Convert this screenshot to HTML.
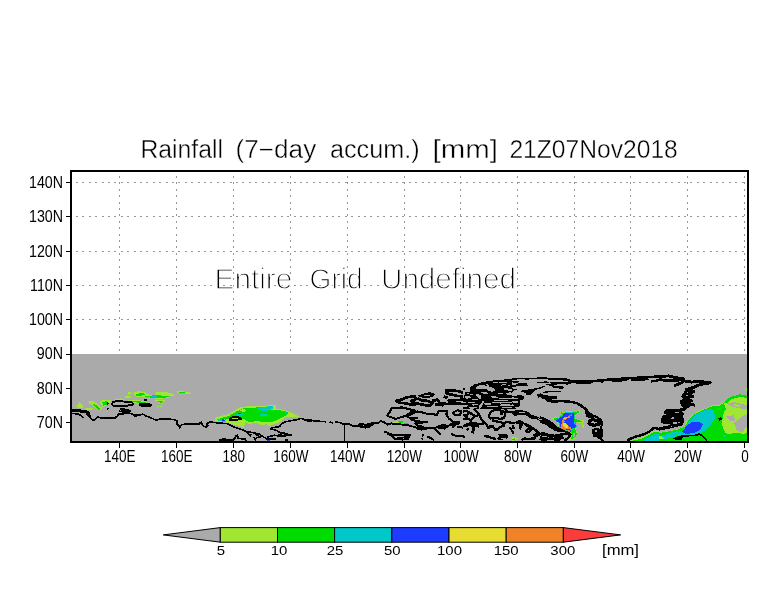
<!DOCTYPE html>
<html><head><meta charset="utf-8"><title>Rainfall (7-day accum.)</title>
<style>
html,body{margin:0;padding:0;background:#fff;}
svg{display:block}
text{font-family:"Liberation Sans",sans-serif;fill:#000}
.thin{stroke:#fff;stroke-width:0.4px;paint-order:fill stroke}
.lab{stroke:none}
</style></head><body>
<svg width="784" height="612" viewBox="0 0 784 612">
<rect width="784" height="612" fill="#fff"/>

<g stroke="#969696" stroke-width="1" fill="none" shape-rendering="crispEdges">
<line x1="119.5" y1="173" x2="119.5" y2="354" stroke-dasharray="2 4.4" stroke-dashoffset="-3"/>
<line x1="176.5" y1="173" x2="176.5" y2="354" stroke-dasharray="2 4.4" stroke-dashoffset="-3"/>
<line x1="233.5" y1="173" x2="233.5" y2="354" stroke-dasharray="2 4.4" stroke-dashoffset="-3"/>
<line x1="290.5" y1="173" x2="290.5" y2="354" stroke-dasharray="2 4.4" stroke-dashoffset="-3"/>
<line x1="347.3" y1="173" x2="347.3" y2="354" stroke-dasharray="2 4.4" stroke-dashoffset="-3"/>
<line x1="404.0" y1="173" x2="404.0" y2="354" stroke-dasharray="2 4.4" stroke-dashoffset="-3"/>
<line x1="460.8" y1="173" x2="460.8" y2="354" stroke-dasharray="2 4.4" stroke-dashoffset="-3"/>
<line x1="517.5" y1="173" x2="517.5" y2="354" stroke-dasharray="2 4.4" stroke-dashoffset="-3"/>
<line x1="574.0" y1="173" x2="574.0" y2="354" stroke-dasharray="2 4.4" stroke-dashoffset="-3"/>
<line x1="630.8" y1="173" x2="630.8" y2="354" stroke-dasharray="2 4.4" stroke-dashoffset="-3"/>
<line x1="687.6" y1="173" x2="687.6" y2="354" stroke-dasharray="2 4.4" stroke-dashoffset="-3"/>
<line x1="744.7" y1="173" x2="744.7" y2="354" stroke-dasharray="2 4.4" stroke-dashoffset="-3"/>
<line x1="72" y1="182.6" x2="747" y2="182.6" stroke-dasharray="2 4.4" stroke-dashoffset="-4"/>
<line x1="72" y1="216.9" x2="747" y2="216.9" stroke-dasharray="2 4.4" stroke-dashoffset="-4"/>
<line x1="72" y1="251.2" x2="747" y2="251.2" stroke-dasharray="2 4.4" stroke-dashoffset="-4"/>
<line x1="72" y1="285.5" x2="747" y2="285.5" stroke-dasharray="2 4.4" stroke-dashoffset="-4"/>
<line x1="72" y1="319.8" x2="747" y2="319.8" stroke-dasharray="2 4.4" stroke-dashoffset="-4"/>
</g>
<rect x="71" y="354" width="677" height="88" fill="#aaaaaa"/>
<defs><clipPath id="mapclip"><rect x="72" y="354" width="675" height="87"/></clipPath></defs>
<g shape-rendering="crispEdges" clip-path="url(#mapclip)">
<polygon points="83.5,411.2 88.5,411.5 90.0,414.0 90.8,418.4 88.5,417.1 86.0,414.0" fill="#000"/>
<polygon points="132.2,414.0 139.1,414.2 142.9,414.2 139.1,415.9 134.8,417.1" fill="#000"/>
<polygon points="144.1,414.6 148.5,417.1 153.5,419.0 156.0,420.5 151.0,418.8 146.0,416.8" fill="#000"/>
<polygon points="76.0,406.5 79.8,402.1 82.9,405.2 83.5,408.4 78.5,407.8" fill="#a0e632"/>
<polygon points="87.9,400.9 93.5,400.9 97.9,404.6 102.2,407.8 99.8,410.9 96.0,409.0 93.5,405.9 89.8,404.0" fill="#a0e632"/>
<polygon points="92.2,404.0 96.0,404.6 100.4,408.4 99.1,410.5 96.0,407.8" fill="#00dc00"/>
<polygon points="99.8,400.9 107.2,399.6 112.2,400.9 107.2,405.2 102.9,407.1 100.4,404.0" fill="#a0e632"/>
<polygon points="102.2,402.1 107.2,400.9 106.6,404.6 103.5,405.9" fill="#00dc00"/>
<polygon points="85.4,408.4 92.9,407.5 92.2,409.6 86.0,410.2" fill="#a0e632"/>
<polygon points="114.8,399.6 121.0,398.4 126.0,400.2 118.5,400.9" fill="#a0e632"/>
<polygon points="124.8,396.5 131.0,395.9 129.8,397.8 125.4,397.8" fill="#a0e632"/>
<polygon points="127.2,392.8 131.0,391.5 132.2,394.0 128.5,394.6" fill="#a0e632"/>
<polygon points="133.5,392.8 138.5,390.9 146.0,392.8 153.5,392.8 163.5,391.5 169.0,392.8 169.0,397.8 158.5,399.0 146.0,397.1 136.0,397.1" fill="#a0e632"/>
<polygon points="146.0,392.8 153.5,392.8 158.5,394.0 151.0,395.0 147.2,394.2" fill="#aaaaaa"/>
<polygon points="136.0,394.0 142.2,392.8 146.0,394.0 141.0,395.9 136.6,396.5" fill="#00dc00"/>
<polygon points="144.8,395.9 157.2,395.2 169.0,396.2 169.0,397.2 158.5,398.4 146.0,397.1" fill="#00dc00"/>
<polygon points="152.2,396.1 157.2,396.2 157.2,397.0 152.2,396.9" fill="#00c8c8"/>
<polygon points="127.9,399.6 138.5,400.2 146.6,401.8 149.1,404.4 138.5,403.5 129.1,402.2" fill="#a0e632"/>
<polygon points="129.8,400.5 138.5,401.1 146.0,402.5 147.2,403.8 138.5,402.8 130.4,401.5" fill="#00dc00"/>
<polygon points="154.8,400.2 164.8,400.5 161.6,404.0" fill="#a0e632"/>
<polygon points="156.6,400.9 163.5,401.0 161.0,403.0" fill="#00dc00"/>
<polygon points="156.6,405.5 158.5,405.5 158.5,406.5 156.6,406.5" fill="#a0e632"/>
<polygon points="160.4,405.9 162.0,405.9 162.0,406.9 160.4,406.9" fill="#a0e632"/>
<polygon points="169.0,392.8 172.1,393.4 174.6,395.2 170.2,396.5 169.0,396.2" fill="#a0e632"/>
<polygon points="177.1,391.5 180.2,390.9 191.5,392.8 190.9,394.0 184.0,393.4 177.8,393.4" fill="#a0e632"/>
<polygon points="178.4,391.5 184.0,392.2 187.8,393.4 184.0,393.0 179.0,392.5" fill="#00dc00"/>
<polygon points="214.6,417.8 219.0,416.5 229.0,414.0 235.2,410.2 240.2,407.1 249.0,406.2 267.0,405.9 267.0,424.0 261.5,425.5 256.5,422.5 249.0,423.8 245.2,422.1 244.0,427.8 239.0,425.9 231.5,424.0 227.8,423.4 224.0,422.1 217.8,421.8 214.6,420.2" fill="#a0e632"/>
<polygon points="219.0,418.4 229.0,415.9 236.5,411.5 242.8,408.4 251.5,407.8 267.0,406.8 267.0,422.1 256.5,421.2 249.0,422.1 244.0,419.2 239.0,417.1 234.0,416.5 229.0,419.0 225.2,419.6" fill="#00dc00"/>
<polygon points="239.0,410.2 244.0,409.0 246.5,410.9 242.8,412.1" fill="#a0e632"/>
<polygon points="255.2,407.8 267.0,406.8 267.0,411.5 261.5,410.5" fill="#00c8c8"/>
<polygon points="235.2,414.0 241.5,412.8 242.8,414.6 237.1,415.9" fill="#00c8c8"/>
<polygon points="259.0,414.6 267.0,413.8 267.0,415.9 261.5,416.5" fill="#00c8c8"/>
<polygon points="216.5,419.6 222.8,419.0 226.5,422.1 219.0,421.2" fill="#00c8c8"/>
<polygon points="221.5,419.2 224.6,419.6 225.9,421.5 222.8,420.9" fill="#1e3cff"/>
<polygon points="238.4,413.0 240.5,413.0 240.5,414.0 238.4,414.0" fill="#1e3cff"/>
<polygon points="219.0,440.9 224.0,438.8 227.8,440.9" fill="#000"/>
<polygon points="267.0,405.2 275.8,405.2 275.8,408.4 284.5,410.2 292.0,412.8 298.9,416.5 295.8,417.1 289.5,416.5 284.5,417.8 280.8,422.1 274.5,424.0 269.5,425.9 267.0,425.2" fill="#a0e632"/>
<polygon points="267.0,410.2 274.5,409.6 283.2,410.9 288.9,412.8 285.8,415.9 280.8,417.8 275.8,420.9 270.8,422.1 267.0,422.1" fill="#00dc00"/>
<polygon points="267.0,406.2 273.2,406.5 272.6,409.0 267.0,410.9" fill="#00c8c8"/>
<polygon points="283.2,410.9 288.2,412.1 285.8,413.0" fill="#00c8c8"/>
<polygon points="267.0,438.4 269.5,438.8 270.1,440.5 267.0,440.9" fill="#1e3cff"/>
<polygon points="267.0,437.8 268.9,437.8 268.9,438.5 267.0,438.5" fill="#00dc00"/>
<polygon points="393.1,422.1 397.5,421.2 402.5,421.2 403.1,423.4 398.8,423.0 393.8,423.0" fill="#a0e632"/>
<polygon points="397.5,421.2 402.5,421.2 402.8,423.0 398.8,422.5" fill="#00dc00"/>
<polygon points="403.8,423.4 408.1,423.4 410.0,425.2 405.0,424.6" fill="#00dc00"/>
<polygon points="404.4,423.5 407.5,423.6 407.5,424.4 404.8,424.2" fill="#00c8c8"/>
<polygon points="417.5,395.9 423.8,393.4 430.0,392.1 435.0,393.8 433.1,397.1 426.2,398.0 420.0,397.2" fill="#000"/>
<polygon points="423.8,395.2 430.0,395.0 430.0,396.0 423.8,396.2" fill="#aaaaaa"/>
<polygon points="365.0,424.0 370.0,422.8 374.4,423.4 373.8,425.2 368.8,426.5 367.5,428.4 365.0,427.8" fill="#000"/>
<polygon points="416.9,425.9 421.2,424.6 423.8,426.5 430.0,427.8 423.8,429.6 417.5,429.6" fill="#000"/>
<polygon points="436.2,427.8 440.0,424.6 445.0,424.0 448.1,427.1 445.0,429.6 440.0,429.0" fill="#000"/>
<polygon points="450.0,423.4 455.0,422.1 460.0,420.9 460.6,424.0 455.0,425.9 451.2,425.9" fill="#000"/>
<polygon points="469.9,388.4 471.1,386.5 474.2,384.6 478.0,383.4 483.0,382.1 489.2,380.9 498.0,379.9 506.8,379.3 512.0,379.0 512.0,409.0 463.0,409.0 463.0,399.0 465.5,392.1 469.9,391.5" fill="#000"/>
<polygon points="463.0,388.1 464.9,388.2 464.9,389.6 463.0,389.6" fill="#000"/>
<polygon points="478.0,385.6 483.6,385.2 489.2,386.5 494.2,388.4 495.5,390.2 492.4,391.8 488.0,390.9 486.8,389.3 481.8,388.7 477.4,389.0 475.5,388.1" fill="#aaaaaa"/>
<polygon points="492.4,381.8 496.8,381.8 498.0,382.8 493.0,382.9" fill="#aaaaaa"/>
<polygon points="499.2,382.1 505.5,381.5 508.0,382.4 503.0,383.4 499.9,383.2" fill="#aaaaaa"/>
<polygon points="485.5,384.3 488.0,384.0 489.2,385.6 486.8,385.6" fill="#aaaaaa"/>
<polygon points="503.6,388.1 508.0,388.4 512.0,389.6 512.0,390.9 506.8,390.4 503.6,389.3" fill="#aaaaaa"/>
<polygon points="498.0,392.8 503.0,393.1 503.0,394.1 498.0,393.9" fill="#aaaaaa"/>
<polygon points="505.5,392.8 510.5,392.4 512.0,393.4 512.0,394.6 506.8,394.9" fill="#aaaaaa"/>
<polygon points="481.1,392.1 486.8,392.4 489.9,393.1 486.8,393.7 481.1,393.4" fill="#aaaaaa"/>
<polygon points="466.8,392.8 469.2,392.6 469.2,393.9 466.8,394.0" fill="#aaaaaa"/>
<polygon points="469.9,394.0 473.0,393.9 473.0,394.9 469.9,394.9" fill="#aaaaaa"/>
<polygon points="475.5,394.0 479.2,394.6 481.1,395.9 481.1,399.0 478.6,398.4 476.4,395.9" fill="#aaaaaa"/>
<polygon points="490.5,395.6 495.5,395.9 498.0,397.8 494.2,398.1 491.1,397.1" fill="#aaaaaa"/>
<polygon points="465.5,395.6 469.9,395.9 471.1,397.8 466.8,398.7 464.9,397.8" fill="#aaaaaa"/>
<polygon points="498.0,398.1 506.8,397.8 512.0,398.1 512.0,399.0 500.5,399.3" fill="#aaaaaa"/>
<polygon points="494.2,399.6 501.8,399.9 506.8,399.6 508.0,400.6 501.8,401.0 494.2,400.8" fill="#aaaaaa"/>
<polygon points="471.8,399.0 477.4,399.3 479.2,400.2 473.0,400.4" fill="#aaaaaa"/>
<polygon points="481.8,400.9 484.2,400.8 484.2,401.8 481.8,402.0" fill="#aaaaaa"/>
<polygon points="463.0,401.5 466.1,401.8 466.8,403.1 463.0,403.4" fill="#aaaaaa"/>
<polygon points="468.0,401.5 474.9,401.8 475.5,402.8 468.6,402.9" fill="#aaaaaa"/>
<polygon points="491.8,402.1 500.5,402.4 508.0,401.8 512.0,402.1 512.0,403.1 500.5,403.5 491.8,403.2" fill="#aaaaaa"/>
<polygon points="484.2,403.1 490.5,403.4 491.1,404.9 484.9,404.6" fill="#aaaaaa"/>
<polygon points="472.4,404.3 477.4,404.0 478.6,405.2 473.0,405.6" fill="#aaaaaa"/>
<polygon points="463.0,404.9 466.8,404.6 468.6,405.9 464.9,407.1 463.0,406.8" fill="#aaaaaa"/>
<polygon points="498.0,404.6 506.8,404.3 512.0,404.6 512.0,405.9 500.5,406.0" fill="#aaaaaa"/>
<polygon points="486.8,405.9 493.0,405.6 498.0,406.5 493.0,407.4 487.4,407.1" fill="#aaaaaa"/>
<polygon points="478.6,406.5 482.4,402.1 483.6,402.4 481.1,407.8 478.6,409.0" fill="#aaaaaa"/>
<polygon points="468.6,407.1 475.5,406.5 477.4,408.1 470.5,409.0" fill="#aaaaaa"/>
<polygon points="501.8,406.8 512.0,406.5 512.0,408.1 503.0,408.1" fill="#aaaaaa"/>
<polygon points="508.0,384.6 509.9,384.6 509.9,385.9 508.0,385.9" fill="#aaaaaa"/>
<polygon points="500.5,384.6 506.1,384.3 506.8,385.2 501.1,385.6" fill="#aaaaaa"/>
<polygon points="512.0,377.9 537.0,377.9 537.6,376.8 547.0,376.8 547.6,377.9 561.0,377.9 561.0,379.9 555.8,379.6 549.5,380.2 547.0,379.3 538.9,379.3 537.0,378.7 529.5,379.0 527.6,380.2 524.5,379.3 518.2,379.3 514.5,380.2 512.0,380.2" fill="#000"/>
<polygon points="514.5,379.9 521.4,379.8 521.4,380.5 514.5,380.8" fill="#aaaaaa"/>
<polygon points="512.0,380.6 518.2,381.0 520.1,382.1 515.8,382.8 512.0,382.4" fill="#000"/>
<polygon points="518.2,383.4 527.0,383.1 527.6,385.6 521.4,385.9 515.8,386.5 512.0,387.4 512.0,385.2 515.8,384.6" fill="#000"/>
<polygon points="521.4,390.6 526.4,389.9 532.6,388.7 538.2,387.8 543.2,386.2 545.1,386.5 540.8,388.7 535.8,389.9 533.2,392.8 530.8,394.9 526.4,394.6 526.4,392.8 521.4,392.1" fill="#000"/>
<polygon points="537.0,381.8 547.0,381.4 549.5,382.4 547.0,383.4 537.0,382.8" fill="#000"/>
<polygon points="549.5,382.4 555.8,381.8 561.0,382.1 561.0,384.0 555.8,384.6 552.6,385.9 549.5,385.6 545.8,384.9 547.0,384.0 552.0,384.0" fill="#000"/>
<polygon points="555.8,382.8 561.0,382.9 561.0,383.4 555.8,383.5" fill="#aaaaaa"/>
<polygon points="552.0,386.5 561.0,386.2 561.0,388.7 555.8,388.1 552.0,387.4" fill="#000"/>
<polygon points="537.0,394.0 540.8,393.4 544.5,395.2 549.5,395.6 557.0,395.9 557.0,398.7 552.6,399.0 552.0,401.5 547.0,401.5 545.8,399.6 542.0,399.0 540.8,397.1 538.2,397.8 537.0,395.2" fill="#000"/>
<polygon points="552.0,401.5 561.0,400.9 561.0,402.4 550.8,402.8" fill="#000"/>
<polygon points="512.0,388.4 515.8,388.7 518.2,389.3 514.5,390.2 512.0,392.1" fill="#000"/>
<polygon points="512.0,395.9 521.4,395.2 524.5,396.5 523.2,399.6 520.1,400.2 519.5,406.5 515.8,407.1 512.0,404.0 512.0,402.4 517.0,403.4 518.2,401.5 512.0,400.9 512.0,399.0 518.2,399.0 518.9,397.8 512.0,397.4" fill="#000"/>
<polygon points="543.2,391.6 561.0,390.6 561.0,391.6 543.2,392.8" fill="#000"/>
<polygon points="537.0,386.5 541.4,386.5 541.4,387.4 537.0,387.4" fill="#000"/>
<polygon points="512.0,406.5 514.5,405.2 515.8,409.0 512.0,409.0" fill="#000"/>
<polygon points="498.0,434.0 506.8,433.7 508.0,436.5 506.8,439.0 498.0,440.2 496.8,438.4 499.2,436.5" fill="#000"/>
<polygon points="500.5,438.4 505.5,437.9 505.5,439.0 500.5,439.3" fill="#aaaaaa"/>
<polygon points="512.0,437.4 515.8,437.1 517.9,438.4 515.1,440.2 512.0,440.9" fill="#a0e632"/>
<polygon points="512.0,438.7 514.8,438.4 515.1,439.9 512.0,440.6" fill="#00dc00"/>
<polygon points="512.0,410.9 517.0,410.2 524.5,410.6 528.2,412.1 530.8,414.6 537.0,416.5 539.5,417.8 544.5,419.0 548.2,420.9 552.0,423.4 555.8,425.9 558.2,428.4 561.0,429.6 561.0,430.9 555.8,429.6 552.0,427.8 548.2,427.1 547.0,424.0 542.0,421.5 537.0,419.6 530.8,418.4 527.0,415.9 523.2,414.6 518.2,415.2 514.5,415.9 512.0,414.0" fill="#000"/>
<polygon points="518.2,411.8 524.5,412.1 525.1,413.4 518.9,413.1" fill="#aaaaaa"/>
<polygon points="538.2,418.4 542.0,419.0 541.4,419.9 538.2,419.3" fill="#aaaaaa"/>
<polygon points="518.2,420.2 520.1,419.9 524.5,422.8 528.2,424.0 533.2,427.1 537.0,429.6 539.5,432.1 542.0,434.0 547.0,435.2 549.5,434.0 553.2,434.0 557.0,436.5 561.0,438.4 561.0,439.6 555.8,438.4 552.0,436.5 547.0,436.5 542.0,435.9 538.2,434.0 534.5,430.9 530.8,429.0 527.0,427.1 524.5,425.2 523.2,424.0 520.8,429.6 518.9,429.0 519.5,424.0 515.8,423.4 512.0,424.0 512.0,422.1 515.8,421.5" fill="#000"/>
<polygon points="629.1,440.9 636.0,439.0 642.2,437.1 648.5,434.2 653.5,431.2 659.0,430.5 659.0,440.9" fill="#a0e632"/>
<polygon points="631.0,440.9 636.0,440.0 642.2,438.4 648.5,435.2 653.5,432.1 659.0,431.5 659.0,440.9" fill="#00dc00"/>
<polygon points="642.2,440.9 648.5,437.1 653.5,434.6 659.0,434.0 659.0,440.9" fill="#00c8c8"/>
<polygon points="585.4,412.1 589.1,413.4 590.4,417.8 586.6,417.1" fill="#000"/>
<polygon points="591.6,429.0 598.5,427.8 602.2,431.5 597.2,434.0 598.5,437.8 593.5,436.5 591.6,431.5" fill="#000"/>
<polygon points="595.0,430.5 597.2,430.2 597.5,431.5 595.2,431.8" fill="#aaaaaa"/>
<polygon points="584.8,410.2 587.9,410.2 591.0,415.2 591.6,418.4 587.9,418.0 585.8,415.2" fill="#000"/>
<polygon points="597.2,432.8 602.9,430.9 602.9,436.5 601.0,439.6 597.2,438.4" fill="#000"/>
<polygon points="747.1,395.9 740.2,394.2 730.2,397.1 725.2,400.9 719.0,405.2 712.8,405.2 709.0,407.1 700.2,410.2 694.0,414.0 687.8,420.2 684.0,426.5 677.8,429.0 666.5,431.5 659.0,432.8 659.0,440.9 747.1,440.9" fill="#a0e632"/>
<polygon points="659.0,433.0 666.5,431.9 677.8,429.5 684.4,427.0 688.2,420.8 694.5,414.5 700.8,410.8 709.2,407.6 713.0,405.8 719.2,405.8 724.0,403.0 726.5,411.5 724.0,424.0 725.2,432.8 734.0,436.5 740.2,439.0 747.1,437.1 747.1,440.9 659.0,440.9" fill="#00dc00"/>
<polygon points="659.0,436.5 666.5,435.2 671.5,436.5 666.5,438.4 659.0,439.0" fill="#a0e632"/>
<polygon points="689.0,421.5 695.2,415.2 702.8,410.9 710.2,408.4 714.0,411.5 715.2,417.8 711.5,424.0 706.5,429.0 700.2,434.0 694.0,435.2 681.5,435.2 674.0,434.0 666.5,433.8 674.0,431.8 682.8,430.5" fill="#00c8c8"/>
<polygon points="661.5,435.5 671.5,433.0 679.0,435.5 671.5,437.8 664.0,439.0" fill="#00c8c8"/>
<polygon points="682.1,432.1 685.9,426.5 691.5,422.1 697.8,421.5 702.8,424.0 700.2,430.2 694.0,432.8 686.5,434.0" fill="#1e3cff"/>
<polygon points="724.0,411.5 729.0,405.2 739.0,402.8 747.1,404.0 747.1,436.5 740.2,439.0 734.0,436.5 725.2,432.8 721.5,424.0" fill="#a0e632"/>
<polygon points="724.0,403.0 725.2,400.9 730.2,397.1 740.2,394.2 747.1,395.9 747.1,398.0 740.2,396.8 731.5,399.2 727.5,403.0" fill="#00dc00"/>
<polygon points="726.5,403.5 734.0,402.0 741.5,404.0 747.1,405.2 747.1,409.6 740.2,408.4 732.8,406.8" fill="#aaaaaa"/>
<polygon points="734.0,404.0 741.5,405.2 739.0,406.8 734.0,405.9" fill="#a0e632"/>
<polygon points="726.5,416.5 734.0,415.2 735.2,421.5 729.0,420.2" fill="#aaaaaa"/>
<polygon points="734.0,422.8 744.0,415.2 747.1,414.0 747.1,426.5 741.5,432.8 736.5,430.2" fill="#aaaaaa"/>
<polygon points="729.0,434.0 736.5,432.8 744.0,434.0 747.1,432.8 747.1,440.9 709.0,440.9 714.0,436.5 721.5,434.6" fill="#00dc00"/>
<polygon points="723.4,435.0 725.9,435.0 725.9,437.1 723.4,437.1" fill="#00c8c8"/>
<polygon points="746.1,387.8 747.1,387.8 747.1,390.9 746.1,390.9" fill="#a0e632"/>
<polygon points="672.8,438.4 677.8,435.9 682.8,436.5 682.1,439.6 675.2,439.6" fill="#000"/>
<polygon points="552.2,418.7 554.4,417.3 558.7,417.6 561.6,414.4 559.4,411.5 563.7,412.6 567.3,411.1 571.6,411.5 575.9,411.5 579.5,410.1 579.5,412.9 575.9,414.4 575.2,418.0 577.4,419.4 583.9,420.5 583.1,423.7 584.6,428.0 582.4,427.3 581.7,423.0 575.9,422.3 576.7,425.9 575.2,428.8 576.7,430.9 577.4,435.2 574.5,438.8 568.8,439.9 571.6,435.9 571.6,433.1 567.3,431.6 563.7,430.2 560.8,429.1 558.0,428.0 558.7,423.7 555.1,420.8" fill="#a0e632"/>
<polygon points="553.3,418.8 554.7,418.0 558.8,418.1 562.0,414.7 560.5,412.2 563.7,413.1 567.3,411.6 571.6,412.0 575.9,412.0 578.8,410.8 579.0,412.7 575.6,414.1 574.8,418.0 577.0,419.8 581.7,420.8 581.3,422.3 575.8,421.9 576.3,425.7 574.9,428.8 576.3,431.1 576.8,435.1 574.2,438.2 570.2,439.2 572.2,435.9 572.1,432.8 567.3,431.3 563.7,429.8 561.0,428.8 558.4,427.7 559.1,423.7 555.5,420.7" fill="#00dc00"/>
<polygon points="572.7,433.8 574.5,432.7 575.6,435.2 573.8,437.4 572.7,435.9" fill="#aaaaaa"/>
<polygon points="554.7,420.0 558.5,418.3 562.3,415.2 563.1,412.8 568.8,411.9 574.1,412.7 574.9,416.5 574.2,420.1 574.9,423.7 577.1,425.9 574.8,428.3 572.1,428.9 572.1,432.7 567.9,431.5 563.6,429.0 559.1,427.6 559.1,423.1" fill="#00c8c8"/>
<polygon points="555.5,420.3 558.8,418.7 562.6,415.7 563.9,413.4 568.8,412.5 573.5,413.2 574.2,416.5 573.5,420.1 574.2,423.7 576.2,425.9 574.4,427.7 571.3,428.6 571.3,431.9 568.0,430.9 563.7,428.5 559.7,427.0 559.7,423.0" fill="#1e3cff"/>
<polygon points="568.8,414.7 572.4,414.4 572.4,416.2 569.5,416.2" fill="#00c8c8"/>
<polygon points="562.3,420.1 564.4,417.3 568.8,416.2 571.6,417.3 567.3,418.0 565.2,420.8 563.7,423.0 567.3,425.9 570.9,427.3 571.6,429.5 568.8,430.9 565.2,430.2 562.3,428.8 560.8,427.3 561.6,423.7" fill="#f08228"/>
<polygon points="563.0,423.0 565.2,422.3 567.3,425.2 568.8,427.3 565.2,428.0 563.0,425.9" fill="#e6dc32"/>
<polygon points="563.7,418.0 567.0,417.1 566.7,418.1 564.4,419.3" fill="#e6dc32"/>
<polygon points="565.2,428.8 570.2,429.1 570.2,430.2 565.9,429.8" fill="#1e3cff"/>
<polygon points="564.4,420.5 566.7,418.8 570.2,418.8 568.8,421.6 565.9,422.4" fill="#1e3cff"/>
<polygon points="544.3,419.1 548.6,420.5 553.3,423.7 555.5,427.3 552.9,428.4 549.3,426.6 547.2,423.0 542.9,420.8" fill="#000"/>
</g>
<!--COAST-->
<g fill="none" stroke="#000" stroke-linejoin="round" shape-rendering="crispEdges" clip-path="url(#mapclip)">
<polyline points="71.0,411.5 74.8,410.9 78.5,411.5 82.2,412.1 86.0,411.5 89.1,412.8 90.4,418.4 94.1,420.5 97.9,416.8 101.0,418.0 106.0,417.8 113.5,418.4 117.2,416.5 118.5,414.2 123.5,413.8 127.2,412.8 132.2,414.0 134.8,415.9 139.1,415.2 142.9,414.2 146.0,415.9 151.0,417.8 156.0,420.2 159.8,419.2 169.0,419.0" stroke-width="1.65"/>
<polyline points="71.0,410.2 76.0,409.8 83.5,410.5 88.5,411.5" stroke-width="1.55"/>
<polyline points="71.0,413.4 78.5,414.0 82.9,417.1 83.5,418.4" stroke-width="1.55"/>
<polyline points="111.6,404.0 113.5,401.8 118.5,400.9 126.0,401.8 132.2,402.5 133.5,404.0 131.0,405.2 124.8,405.9 118.5,406.2 113.5,405.9 111.6,404.0" stroke-width="1.95"/>
<polyline points="139.1,404.6 142.2,403.8 148.5,404.0 151.0,405.2 148.5,406.5 142.2,406.2 139.1,404.6" stroke-width="1.95"/>
<polyline points="107.0,403.0 108.5,404.0" stroke-width="2.35"/>
<polyline points="144.1,399.9 146.6,400.1" stroke-width="2.35"/>
<polyline points="106.6,408.4 108.5,409.2" stroke-width="1.85"/>
<polyline points="120.4,409.0 124.8,408.4" stroke-width="1.65"/>
<polyline points="121.0,409.9 127.2,409.6 130.4,411.2 123.5,411.8 119.1,411.2" stroke-width="1.75"/>
<polyline points="117.2,414.6 121.0,414.0" stroke-width="1.75"/>
<polyline points="112.2,418.0 116.0,418.6" stroke-width="1.85"/>
<polyline points="169.0,419.2 174.0,419.6 177.1,421.2 176.5,423.4 178.4,425.2 179.6,427.8 181.5,424.6 186.5,424.0 197.8,424.0 201.5,423.4 203.4,425.9 205.9,427.1 207.8,425.2 206.5,423.4 210.2,422.1 224.0,423.4 227.8,423.8 234.0,427.1 241.5,429.6 246.5,431.5 254.0,432.8 259.0,434.0 262.8,436.5 267.0,439.0" stroke-width="1.65"/>
<polyline points="177.8,424.6 180.0,427.5" stroke-width="2.35"/>
<polyline points="199.0,423.4 201.8,422.1" stroke-width="1.65"/>
<polyline points="246.5,431.5 250.2,435.9 251.5,434.0" stroke-width="1.65"/>
<polyline points="254.0,432.8 260.2,437.1 256.5,437.8 255.2,440.0 254.0,437.1" stroke-width="1.65"/>
<polyline points="229.0,419.6 232.8,417.1 239.0,417.5 240.9,418.8 236.5,420.0 231.5,420.2 229.0,419.6" stroke-width="1.95"/>
<polyline points="219.0,440.0 224.0,439.0 229.0,440.5 234.0,439.6 235.9,435.9 237.5,435.2 237.8,438.4 245.2,438.8 245.9,440.9" stroke-width="1.85"/>
<polyline points="300.8,418.4 297.0,419.6 292.0,420.5 285.8,421.8 282.0,423.4 279.5,426.5 272.0,427.8 270.8,429.0 275.8,430.2 280.8,432.8 284.5,433.8 291.4,435.0 284.5,435.9 279.5,436.2 274.5,435.2 269.5,436.5 267.0,437.1" stroke-width="1.65"/>
<polyline points="278.2,435.0 284.5,432.8 285.8,435.9" stroke-width="1.65"/>
<polyline points="267.0,439.2 275.8,439.2" stroke-width="1.65"/>
<polyline points="284.5,440.4 287.6,440.4" stroke-width="1.85"/>
<polyline points="300.8,418.4 303.2,419.2 307.0,420.5 312.0,420.5 317.0,421.2 324.5,421.5 326.4,422.5" stroke-width="1.65"/>
<polyline points="307.2,420.4 312.2,420.4" stroke-width="2.55"/>
<polyline points="329.5,422.1 333.2,423.0" stroke-width="1.65"/>
<polyline points="335.1,422.1 339.5,422.5 343.2,424.0 349.5,424.2 353.2,426.2 358.2,425.9 360.1,424.0 363.2,423.8 365.0,425.2" stroke-width="1.65"/>
<polyline points="359.2,426.2 365.0,427.0" stroke-width="2.35"/>
<polyline points="344.8,424.0 344.8,441.0" stroke-width="1.2"/>
<polyline points="365.0,425.9 367.5,424.0 373.8,423.0 377.5,423.4 380.6,421.2 383.8,422.1 387.5,424.6 391.2,423.4 396.2,424.0 402.5,424.6 407.5,425.2 412.5,426.5 417.5,427.8 421.2,429.6 427.5,428.4 435.0,427.8 440.0,425.9 445.0,426.5 450.0,425.2 455.0,425.5 452.5,427.5" stroke-width="1.9"/>
<polyline points="365.0,427.8 368.8,427.1 372.5,424.6" stroke-width="1.9"/>
<polyline points="386.9,415.9 390.0,411.5 391.9,407.8 402.5,407.5 411.2,409.6 415.0,410.5 410.0,412.8 406.2,415.9 401.2,417.1 395.6,419.0 391.2,417.1 386.9,415.9" stroke-width="2.1"/>
<polyline points="406.2,416.5 411.2,414.0 417.5,411.5 423.8,412.8 427.5,414.0 432.5,413.8 436.9,415.2 438.8,410.9 447.5,410.9 446.2,414.0 448.8,418.4 452.5,421.5 457.5,422.1" stroke-width="2.1"/>
<polyline points="407.5,417.1 412.5,418.4 417.5,417.8 411.2,419.6 417.5,421.5 427.5,421.8 421.2,422.8 415.0,423.4 418.8,426.5 423.8,427.8" stroke-width="2.1"/>
<polyline points="395.6,400.9 401.2,399.6 407.5,397.1 415.0,396.5 416.2,399.0 411.2,400.9 415.0,403.4 420.0,404.0 425.0,405.2 430.0,405.9 432.5,402.8 427.5,400.9 421.2,400.2 417.5,398.4" stroke-width="2.7"/>
<polyline points="432.5,400.9 437.5,399.6 440.0,403.4 445.0,403.4 442.5,405.2 435.0,404.6" stroke-width="2.7"/>
<polyline points="395.6,400.9 400.0,402.8 406.2,403.4 411.2,404.6 416.2,405.2" stroke-width="2.7"/>
<polyline points="445.0,390.9 452.5,390.2 460.0,391.5 463.0,392.8" stroke-width="2.7"/>
<polyline points="445.0,392.8 451.2,394.6 457.5,395.9 463.0,396.5" stroke-width="2.7"/>
<polyline points="443.8,396.5 447.5,397.8" stroke-width="2.7"/>
<polyline points="447.5,400.9 455.0,400.2 463.0,399.6" stroke-width="2.7"/>
<polyline points="446.2,404.0 455.0,403.4 463.0,404.0" stroke-width="2.7"/>
<polyline points="452.5,412.8 457.5,410.2 461.2,411.5 460.0,415.2 455.0,415.2 452.5,412.8" stroke-width="2.1"/>
<polyline points="384.4,431.5 390.0,434.0 395.0,435.2 402.5,434.6 410.0,435.2 408.8,437.1 400.0,437.8 395.0,439.0 392.5,436.5 387.5,433.4" stroke-width="1.9"/>
<polyline points="395.0,439.0 402.5,439.6 408.8,439.0" stroke-width="1.9"/>
<polyline points="421.9,435.0 423.8,435.8" stroke-width="2.5"/>
<polyline points="421.5,438.4 422.8,438.8" stroke-width="2.0"/>
<polyline points="427.5,436.5 431.2,438.4 433.8,440.2" stroke-width="1.9"/>
<polyline points="435.0,429.0 440.0,434.0 437.5,430.9" stroke-width="1.9"/>
<polyline points="451.2,434.0 456.2,435.9 463.0,436.5" stroke-width="1.9"/>
<polyline points="457.5,426.5 463.0,427.8" stroke-width="2.0"/>
<polyline points="451.2,424.0 456.2,423.4 460.0,421.5" stroke-width="2.1"/>
<polyline points="463.0,411.5 465.5,410.9 469.2,412.1 472.4,414.6 475.5,415.9 479.2,415.2 478.0,412.8 475.5,410.9 474.2,409.0" stroke-width="2.3"/>
<polyline points="475.5,415.9 470.5,420.2 471.8,422.8 466.8,424.6 463.0,425.9" stroke-width="2.3"/>
<polyline points="479.2,415.2 481.8,419.6 484.2,422.1 486.8,424.6 488.0,428.4 489.9,426.5 493.0,426.5 495.5,430.2 498.0,429.0 501.1,426.5 504.2,425.9 503.0,423.4 506.8,422.1 512.0,422.8" stroke-width="2.3"/>
<polyline points="471.8,422.8 478.6,424.0 484.2,423.4" stroke-width="2.3"/>
<polyline points="473.0,424.6 473.6,429.0 472.4,433.4" stroke-width="2.8"/>
<polyline points="464.9,425.9 468.6,425.2 475.5,425.6 479.2,426.5" stroke-width="2.3"/>
<polyline points="466.8,428.4 468.6,430.2" stroke-width="2.3"/>
<polyline points="463.0,415.2 466.8,415.9 468.6,413.4" stroke-width="2.3"/>
<polyline points="463.0,419.0 466.8,418.4 470.5,420.2" stroke-width="2.3"/>
<polyline points="488.6,417.1 490.5,412.1 494.2,410.2 498.0,409.6 501.8,410.9 505.5,412.8 504.2,417.8 500.5,419.0 498.0,418.4 494.2,417.8 490.5,418.4 488.6,417.1" stroke-width="2.3"/>
<polyline points="499.9,413.4 503.0,413.7" stroke-width="3"/>
<polyline points="491.8,420.2 496.8,421.5 500.5,422.1 503.0,423.4" stroke-width="2.3"/>
<polyline points="509.2,427.8 512.0,429.6" stroke-width="2.3"/>
<polyline points="484.2,436.2 488.0,436.5 491.8,438.1 496.1,439.0" stroke-width="2.3"/>
<polyline points="463.0,436.5 464.9,436.8" stroke-width="2.3"/>
<polyline points="505.5,409.0 506.8,411.5 512.0,412.1" stroke-width="2.3"/>
<polyline points="525.8,430.9 527.6,429.0 530.8,429.6 530.1,431.5 527.0,432.1 525.8,430.9" stroke-width="2.2"/>
<polyline points="512.0,425.2 513.9,427.8 512.0,428.4" stroke-width="2.2"/>
<polyline points="512.0,430.2 513.2,432.8 512.0,433.4" stroke-width="2.2"/>
<polyline points="533.2,435.2 537.0,434.0 539.5,434.6 535.8,436.5 533.9,439.0 533.2,440.2" stroke-width="2.2"/>
<polyline points="522.0,440.2 524.5,438.4 528.2,439.0 533.2,438.4 535.8,437.8" stroke-width="2.2"/>
<polyline points="539.5,439.0 543.2,440.2 547.0,440.9" stroke-width="2.2"/>
<polyline points="548.2,435.2 552.0,438.4 555.8,440.2 559.5,440.9" stroke-width="2.2"/>
<polyline points="561.0,379.0 566.0,379.6 572.2,381.5 581.0,380.9 591.0,381.5 601.0,380.2 608.5,379.6 616.0,379.0 626.0,378.4 636.0,377.8 646.0,377.1 659.0,376.5" stroke-width="2.4"/>
<polyline points="561.0,382.8 567.2,383.4 571.0,382.1" stroke-width="2.4"/>
<polyline points="561.0,387.8 563.5,387.1" stroke-width="2.4"/>
<polyline points="601.0,382.5 603.5,380.2" stroke-width="2.4"/>
<polyline points="608.5,379.6 619.8,380.2 628.5,378.5" stroke-width="3.4"/>
<polyline points="573.5,381.8 581.0,382.8 591.0,382.2" stroke-width="2.6"/>
<polyline points="631.0,380.2 641.0,379.6 648.5,378.8" stroke-width="2.6"/>
<polyline points="651.0,381.5 659.0,380.2" stroke-width="2.4"/>
<polyline points="561.0,400.9 568.5,401.2 576.0,402.8 581.0,405.2 586.0,409.0 588.5,412.8 592.2,415.2 597.2,417.1 601.0,420.2 602.2,424.0 601.0,427.8 602.2,431.5 599.8,435.2 601.0,439.0 603.5,440.9" stroke-width="2.1"/>
<polyline points="588.5,422.1 592.2,419.6 598.5,420.9 599.8,424.0 594.8,425.2 589.8,424.6 588.5,422.1" stroke-width="3.2"/>
<polyline points="627.2,440.9 629.8,439.0 636.0,436.5 641.0,435.2 647.2,432.8 652.2,429.6 653.5,427.8 659.0,429.0" stroke-width="2.4"/>
<polyline points="659.0,376.5 669.0,375.9 676.5,377.8 684.0,379.0 677.8,380.2 671.5,380.9 659.0,379.6" stroke-width="2.9"/>
<polyline points="674.0,385.9 681.5,382.8 684.0,380.9 691.5,382.1 700.2,381.5 710.2,382.8 702.8,384.0 696.5,385.9 692.8,387.8" stroke-width="2.9"/>
<polyline points="692.8,387.8 686.5,389.6 685.2,394.0 682.8,396.5 687.8,399.0 681.5,401.5 682.8,405.2 689.0,405.2 684.0,409.0 680.2,410.2 666.5,410.9 665.2,412.8 674.0,414.0 681.5,415.2 664.0,416.5 662.8,420.2 674.0,420.9 682.8,419.6 681.5,424.0 671.5,426.5 659.0,429.0" stroke-width="3.2"/>
<polyline points="687.8,390.2 694.0,391.5 687.8,394.0 692.8,396.5 686.5,397.8 691.5,400.9 685.2,403.4 695.2,405.2" stroke-width="2.9"/>
<polyline points="680.2,411.5 682.8,414.0 675.2,417.8 682.1,417.1 676.5,422.1" stroke-width="2.9"/>
<polyline points="661.5,417.8 670.2,419.0 662.8,422.1 672.8,423.4" stroke-width="2.8"/>
<polyline points="681.5,435.5 684.0,436.5 685.9,435.9 696.5,435.2 699.0,434.0 702.8,435.9 705.2,439.0 707.1,440.2" stroke-width="1.6"/>
<polyline points="718.8,419.6 721.5,418.4" stroke-width="2.9"/>
<polyline points="546.5,400.0 551.5,401.1 561.6,401.4 570.2,401.8 577.4,403.6 581.7,406.5 586.0,410.1 588.9,412.9 591.8,416.5 594.6,420.1" stroke-width="2.0"/>
<polyline points="540.0,417.3 544.3,418.7 548.6,420.8 552.9,423.7 556.5,427.3 561.6,430.2 565.2,431.6 568.8,433.1 571.6,435.2" stroke-width="2.0"/>
<polyline points="540.0,421.6 545.8,423.7 550.8,427.3 555.8,430.2 561.6,431.6" stroke-width="2.0"/>
<polyline points="540.0,433.8 544.3,433.4 548.6,435.2 554.4,435.9 561.6,434.5 567.3,433.8 570.2,435.9 567.3,438.8 564.4,440.3" stroke-width="2.4"/>
<polyline points="540.0,437.4 545.8,438.5 551.5,439.2 558.7,438.8 563.7,437.4" stroke-width="2.4"/>
<polyline points="554.4,436.7 558.7,437.4 561.6,435.9" stroke-width="2.0"/>
</g>
<rect x="71" y="171" width="677" height="271" fill="none" stroke="#000" stroke-width="2"/>
<g stroke="#000" stroke-width="1" shape-rendering="crispEdges">
<line x1="119.5" y1="442" x2="119.5" y2="448"/>
<line x1="176.5" y1="442" x2="176.5" y2="448"/>
<line x1="233.5" y1="442" x2="233.5" y2="448"/>
<line x1="290.5" y1="442" x2="290.5" y2="448"/>
<line x1="347.3" y1="442" x2="347.3" y2="448"/>
<line x1="404.0" y1="442" x2="404.0" y2="448"/>
<line x1="460.8" y1="442" x2="460.8" y2="448"/>
<line x1="517.5" y1="442" x2="517.5" y2="448"/>
<line x1="574.0" y1="442" x2="574.0" y2="448"/>
<line x1="630.8" y1="442" x2="630.8" y2="448"/>
<line x1="687.6" y1="442" x2="687.6" y2="448"/>
<line x1="744.7" y1="442" x2="744.7" y2="448"/>
<line x1="66" y1="182.6" x2="71" y2="182.6"/>
<line x1="66" y1="216.9" x2="71" y2="216.9"/>
<line x1="66" y1="251.2" x2="71" y2="251.2"/>
<line x1="66" y1="285.5" x2="71" y2="285.5"/>
<line x1="66" y1="319.8" x2="71" y2="319.8"/>
<line x1="66" y1="354.1" x2="71" y2="354.1"/>
<line x1="66" y1="388.4" x2="71" y2="388.4"/>
<line x1="66" y1="422.7" x2="71" y2="422.7"/>
</g>
<g class="lab">
<text font-size="17.2" transform="translate(119.8,461.7) scale(0.785,1)" text-anchor="middle">140E</text>
<text font-size="17.2" transform="translate(176.8,461.7) scale(0.785,1)" text-anchor="middle">160E</text>
<text font-size="17.2" transform="translate(233.8,461.7) scale(0.785,1)" text-anchor="middle">180</text>
<text font-size="17.2" transform="translate(290.8,461.7) scale(0.785,1)" text-anchor="middle">160W</text>
<text font-size="17.2" transform="translate(347.6,461.7) scale(0.785,1)" text-anchor="middle">140W</text>
<text font-size="17.2" transform="translate(404.3,461.7) scale(0.785,1)" text-anchor="middle">120W</text>
<text font-size="17.2" transform="translate(461.1,461.7) scale(0.785,1)" text-anchor="middle">100W</text>
<text font-size="17.2" transform="translate(517.8,461.7) scale(0.785,1)" text-anchor="middle">80W</text>
<text font-size="17.2" transform="translate(574.3,461.7) scale(0.785,1)" text-anchor="middle">60W</text>
<text font-size="17.2" transform="translate(631.1,461.7) scale(0.785,1)" text-anchor="middle">40W</text>
<text font-size="17.2" transform="translate(687.9,461.7) scale(0.785,1)" text-anchor="middle">20W</text>
<text font-size="17.2" transform="translate(745.0,461.7) scale(0.785,1)" text-anchor="middle">0</text>
<text font-size="16.1" transform="translate(63,187.9) scale(0.885,1)" text-anchor="end">140N</text>
<text font-size="16.1" transform="translate(63,222.2) scale(0.885,1)" text-anchor="end">130N</text>
<text font-size="16.1" transform="translate(63,256.5) scale(0.885,1)" text-anchor="end">120N</text>
<text font-size="16.1" transform="translate(63,290.8) scale(0.885,1)" text-anchor="end">110N</text>
<text font-size="16.1" transform="translate(63,325.1) scale(0.885,1)" text-anchor="end">100N</text>
<text font-size="16.1" transform="translate(63,359.4) scale(0.885,1)" text-anchor="end">90N</text>
<text font-size="16.1" transform="translate(63,393.7) scale(0.885,1)" text-anchor="end">80N</text>
<text font-size="16.1" transform="translate(63,428.0) scale(0.885,1)" text-anchor="end">70N</text>
</g>
<g font-size="25.4" class="thin">
<text x="140.4" y="157.7" textLength="82.6" lengthAdjust="spacingAndGlyphs">Rainfall</text>
<text x="235.6" y="157.7" textLength="80.6" lengthAdjust="spacingAndGlyphs">(7−day</text>
<text x="330" y="157.7" textLength="89.6" lengthAdjust="spacingAndGlyphs">accum.)</text>
<text x="432.6" y="157.7" textLength="65.4" lengthAdjust="spacingAndGlyphs">[mm]</text>
<text x="509.4" y="157.7" textLength="168.4" lengthAdjust="spacingAndGlyphs">21Z07Nov2018</text>
</g>
<g font-size="30.2" style="stroke:#fff;stroke-width:1.3px;paint-order:fill stroke">
<text x="214.6" y="288.8" textLength="77.6" lengthAdjust="spacingAndGlyphs">Entire</text>
<text x="309.6" y="288.8" textLength="53" lengthAdjust="spacingAndGlyphs">Grid</text>
<text x="381" y="288.8" textLength="135" lengthAdjust="spacingAndGlyphs">Undefined</text>
</g>
<g stroke="#000" stroke-width="1">
<polygon points="163.3,534.9 220.3,527.6 220.3,542.2" fill="#aaaaaa"/>
<rect x="220.3" y="527.6" width="57.2" height="14.6" fill="#a0e632"/>
<rect x="277.5" y="527.6" width="57.2" height="14.6" fill="#00dc00"/>
<rect x="334.6" y="527.6" width="57.2" height="14.6" fill="#00c8c8"/>
<rect x="391.8" y="527.6" width="57.2" height="14.6" fill="#1e3cff"/>
<rect x="449.0" y="527.6" width="57.2" height="14.6" fill="#e6dc32"/>
<rect x="506.2" y="527.6" width="57.2" height="14.6" fill="#f08228"/>
<polygon points="620.6,534.9 563.3,527.6 563.3,542.2" fill="#fa3c3c"/>
</g>
<g font-size="13.6">
<text transform="translate(221.0,555.4) scale(1.1,1)" text-anchor="middle">5</text>
<text transform="translate(279.0,555.4) scale(1.1,1)" text-anchor="middle">10</text>
<text transform="translate(335.0,555.4) scale(1.1,1)" text-anchor="middle">25</text>
<text transform="translate(392.2,555.4) scale(1.1,1)" text-anchor="middle">50</text>
<text transform="translate(449.5,555.4) scale(1.1,1)" text-anchor="middle">100</text>
<text transform="translate(506.2,555.4) scale(1.1,1)" text-anchor="middle">150</text>
<text transform="translate(562.8,555.4) scale(1.1,1)" text-anchor="middle">300</text>
<text x="602" y="555.4" font-size="14.7" textLength="37" lengthAdjust="spacingAndGlyphs">[mm]</text>
</g>
</svg></body></html>
